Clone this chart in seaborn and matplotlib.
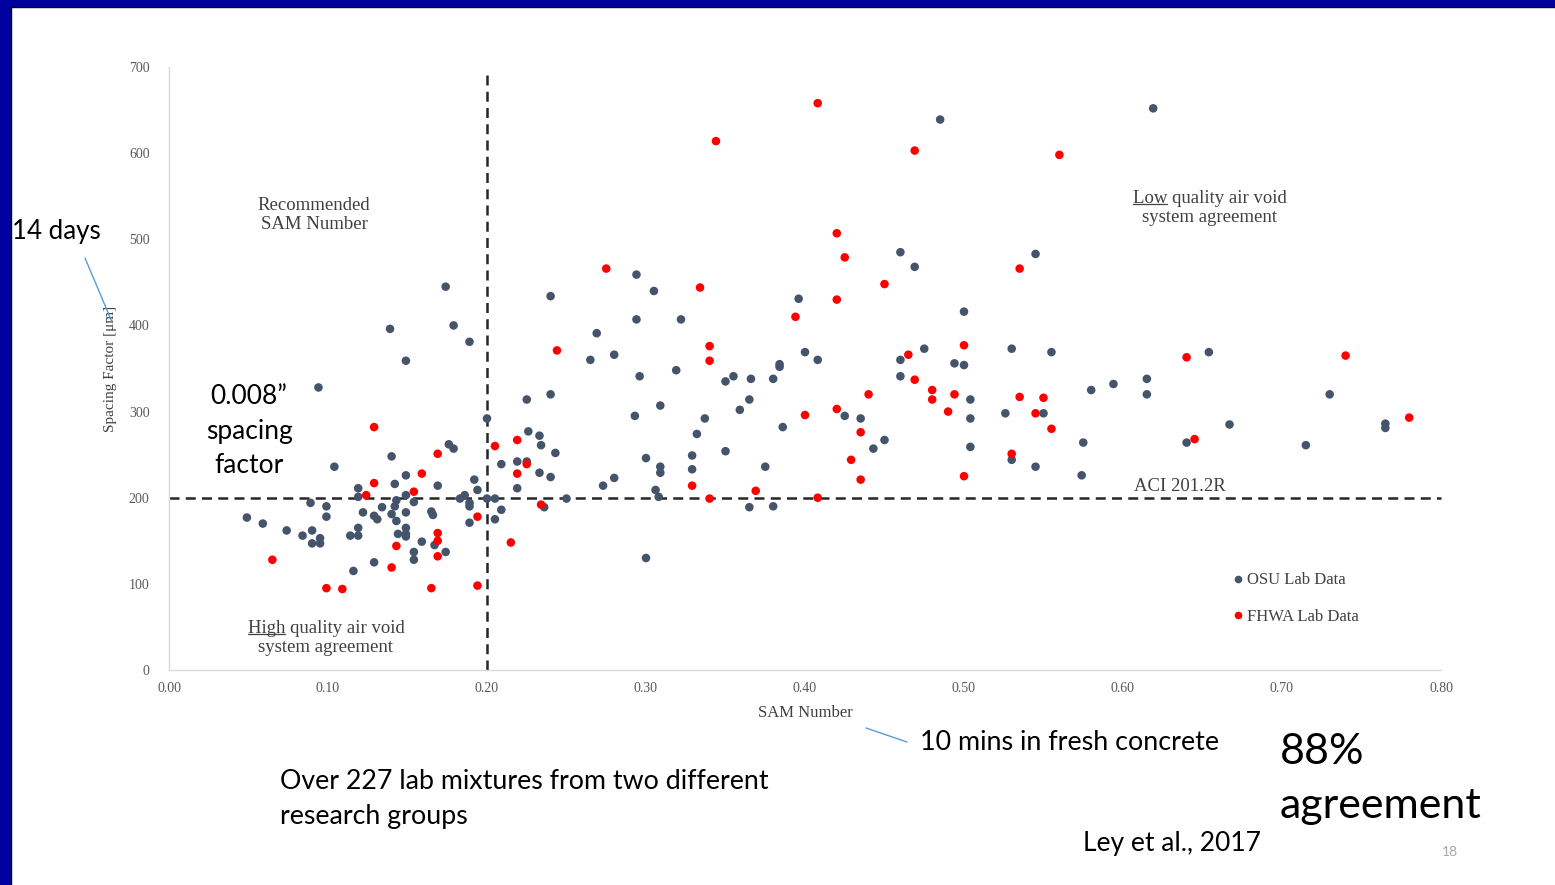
import matplotlib
matplotlib.use("Agg")
import matplotlib.pyplot as plt
import seaborn as sns
import pandas as pd
from matplotlib.lines import Line2D
from matplotlib.patches import Rectangle

# ---------------- data ----------------
osu_sam = [0.049, 0.059, 0.074, 0.084, 0.090, 0.090, 0.095, 0.095, 0.089, 0.099,
           0.099, 0.094, 0.104, 0.114, 0.119, 0.119, 0.119, 0.119, 0.122, 0.129,
           0.131, 0.134, 0.129, 0.116, 0.140, 0.142, 0.143, 0.142, 0.140, 0.143,
           0.144, 0.149, 0.149, 0.149, 0.149, 0.149, 0.154, 0.149, 0.159, 0.167,
           0.174, 0.154, 0.154, 0.165, 0.166, 0.169, 0.183, 0.186, 0.189, 0.189,
           0.192, 0.194, 0.189, 0.200, 0.205, 0.205, 0.209, 0.176, 0.179, 0.149,
           0.139, 0.174, 0.179, 0.189, 0.200, 0.209, 0.219, 0.225, 0.219, 0.233,
           0.240, 0.236, 0.225, 0.240, 0.226, 0.233, 0.234, 0.243,
           0.240, 0.250, 0.265, 0.269, 0.280, 0.273, 0.280, 0.294, 0.305, 0.294,
           0.322, 0.296, 0.309, 0.319, 0.293, 0.300, 0.309, 0.309, 0.306, 0.308,
           0.300, 0.329, 0.329, 0.332, 0.337, 0.350, 0.355, 0.350, 0.359, 0.365,
           0.366, 0.380, 0.384, 0.384, 0.386, 0.375, 0.365, 0.380, 0.396, 0.400,
           0.408, 0.485, 0.460, 0.469, 0.545, 0.500, 0.460, 0.475, 0.460, 0.494,
           0.500, 0.530, 0.555, 0.425, 0.435, 0.443, 0.450, 0.504, 0.504, 0.504,
           0.526, 0.530, 0.545, 0.550, 0.575, 0.574, 0.580, 0.594, 0.619, 0.654,
           0.615, 0.615, 0.667, 0.640, 0.715, 0.730, 0.765, 0.765]
osu_sf = [177, 170, 162, 156, 162, 147, 147, 153, 194, 190,
          178, 328, 236, 156, 156, 165, 211, 201, 183, 179,
          175, 189, 125, 115, 248, 216, 197, 190, 181, 173,
          158, 158, 165, 155, 203, 183, 195, 226, 149, 145,
          137, 137, 128, 184, 180, 214, 199, 203, 194, 190,
          221, 209, 171, 199, 199, 175, 186, 262, 257, 359,
          396, 445, 400, 381, 292, 239, 242, 242, 211, 229,
          224, 189, 314, 320, 277, 272, 261, 252,
          434, 199, 360, 391, 366, 214, 223, 459, 440, 407,
          407, 341, 307, 348, 295, 246, 236, 229, 209, 201,
          130, 249, 233, 274, 292, 335, 341, 254, 302, 314,
          338, 338, 355, 352, 282, 236, 189, 190, 431, 369,
          360, 639, 485, 468, 483, 416, 360, 373, 341, 356,
          354, 373, 369, 295, 292, 257, 267, 314, 292, 259,
          298, 244, 236, 298, 264, 226, 325, 332, 652, 369,
          338, 320, 285, 264, 261, 320, 286, 281]

fhwa_sam = [0.065, 0.099, 0.109, 0.124, 0.129, 0.129, 0.140, 0.143, 0.154, 0.159,
            0.165, 0.169, 0.169, 0.169, 0.169, 0.194, 0.194, 0.205, 0.219, 0.225,
            0.219, 0.215, 0.234, 0.275, 0.244, 0.344, 0.334, 0.340, 0.340, 0.329,
            0.340, 0.369, 0.394, 0.400, 0.408, 0.408, 0.469, 0.560, 0.420, 0.425,
            0.450, 0.420, 0.535, 0.465, 0.500, 0.469, 0.480, 0.480, 0.494, 0.490,
            0.535, 0.550, 0.545, 0.555, 0.440, 0.420, 0.435, 0.429, 0.435, 0.500,
            0.530, 0.640, 0.645, 0.740, 0.780]
fhwa_sf = [128, 95, 94, 203, 217, 282, 119, 144, 207, 228,
           95, 251, 159, 150, 132, 178, 98, 260, 267, 239,
           228, 148, 192, 466, 371, 614, 444, 376, 359, 214,
           199, 208, 410, 296, 200, 658, 603, 598, 507, 479,
           448, 430, 466, 366, 377, 337, 325, 314, 320, 300,
           317, 316, 298, 280, 320, 303, 276, 244, 221, 225,
           251, 363, 268, 365, 293]

series_names = ["OSU Lab Data", "FHWA Lab Data"]
series_colors = ["#44546A", "#FF0000"]
x_ticks = [0.0, 0.1, 0.2, 0.3, 0.4, 0.5, 0.6, 0.7, 0.8]
y_ticks = [0, 100, 200, 300, 400, 500, 600, 700]
sam_limit = 0.20
aci_limit = 200

# ---------------- figure ----------------
sns.set_style("white")
plt.rcParams['font.family'] = ['Liberation Serif', 'DejaVu Sans']
W, H = 1555, 885
fig = plt.figure(figsize=(W / 100, H / 100), dpi=100)
fig.patch.set_facecolor("white")

# slide border
fig.patches.append(Rectangle((0, 0), 10 / W, 1, transform=fig.transFigure,
                             color="#0000A0", zorder=0))
fig.patches.append(Rectangle((0, 1 - 6 / H), 1, 6 / H, transform=fig.transFigure,
                             color="#0000A0", zorder=0))
fig.add_artist(Line2D([10.5 / W, 10.5 / W], [0, 1 - 6 / H], transform=fig.transFigure,
                      color="black", lw=1.0))
fig.add_artist(Line2D([10 / W, 1], [1 - 6.5 / H, 1 - 6.5 / H], transform=fig.transFigure,
                      color="black", lw=1.0))

ax = fig.add_axes([169 / W, (H - 670) / H, 1272 / W, 603 / H])

df = pd.DataFrame({
    "SAM": osu_sam + fhwa_sam,
    "SF": osu_sf + fhwa_sf,
    "Source": [series_names[0]] * len(osu_sam) + [series_names[1]] * len(fhwa_sam),
})
sns.scatterplot(data=df, x="SAM", y="SF", hue="Source",
                palette=dict(zip(series_names, series_colors)),
                s=38, edgecolor="none", linewidth=0, ax=ax, legend=False, zorder=3)

ax.set_xlim(0, 0.8)
ax.set_ylim(0, 700)
ax.set_xticks(x_ticks)
ax.set_xticklabels([f"{v:.2f}" for v in x_ticks])
ax.set_yticks(y_ticks)
ax.set_yticklabels([str(v) for v in y_ticks])
ax.tick_params(axis="both", length=0, labelsize=10, labelcolor="#595959")
ax.tick_params(axis="y", pad=14)
ax.tick_params(axis="x", pad=9)
for s in ["top", "right"]:
    ax.spines[s].set_visible(False)
for s in ["left", "bottom"]:
    ax.spines[s].set_color("#D9D9D9")
    ax.spines[s].set_linewidth(1.0)
ax.grid(False)

ax.set_xlabel("SAM Number", fontsize=12, color="#404040")
ax.set_ylabel("Spacing Factor [μm]", fontsize=11, color="#404040")
ax.xaxis.set_label_coords(0.5, -0.058)
ax.yaxis.set_label_coords(-0.041, 0.5)

# limit lines
ax.plot([sam_limit, sam_limit], [0, 694], color="#262626", lw=1.8,
        dashes=(4, 2.5), zorder=2, clip_on=False)
ax.plot([0, 0.8], [aci_limit, aci_limit], color="#262626", lw=1.8,
        dashes=(4, 2.5), zorder=2, clip_on=False)

# annotations inside the chart
tc = "#404040"
afs = 13.5
ax.text(0.0912, 528, "Recommended\nSAM Number", ha="center", va="center",
        fontsize=afs, color=tc, linespacing=1.12)
ax.text(0.636, 213, "ACI 201.2R", ha="center", va="center", fontsize=afs, color=tc)
t_high = ax.text(0.0987, 37, "High quality air void\nsystem agreement", ha="center",
                 va="center", fontsize=afs, color=tc, linespacing=1.12)
t_low = ax.text(0.6547, 536, "Low quality air void\nsystem agreement", ha="center",
                va="center", fontsize=afs, color=tc, linespacing=1.12)

# legend
handles = [Line2D([], [], marker="o", ls="none", color=c, markersize=5.5,
                  markeredgewidth=0) for c in series_colors]
ax.legend(handles, series_names, loc="center left", bbox_to_anchor=(0.822, 0.118),
          frameon=False, handletextpad=0.05, labelspacing=1.25, fontsize=12,
          handlelength=1.0, labelcolor=tc)

# slide text
sf = ['Lato', 'DejaVu Sans']
fig.text(12 / W, 1 - 232 / H, "14 days", fontsize=18.6, family=sf, va="center", ha="left",
         color="black")
fig.text(249 / W, 1 - 431 / H, "0.008”\nspacing\nfactor", fontsize=19, family=sf,
         va="center", ha="center", linespacing=1.47, color="black")
fig.text(920 / W, 1 - 742 / H, "10 mins in fresh concrete", fontsize=19.4, family=sf,
         va="center", ha="left", color="black")
fig.text(280 / W, 1 - 799 / H, "Over 227 lab mixtures from two different\nresearch groups",
         fontsize=19.3, family=sf, va="center", ha="left", linespacing=1.53, color="black")
fig.text(1280 / W, 1 - 779 / H, "88%\nagreement", fontsize=31, family=sf,
         va="center", ha="left", linespacing=1.52, color="black")
fig.text(1083 / W, 1 - 843 / H, "Ley et al., 2017", fontsize=19, family=sf,
         va="center", ha="left", color="black")
fig.text(1450 / W, 1 - 852 / H, "18", fontsize=10, family=sf, va="center", ha="center",
         color="#A6A6A6")

# callout lines
lc = "#5B9BD5"
fig.add_artist(Line2D([85 / W, 112 / W], [1 - 258 / H, 1 - 322 / H],
                      transform=fig.transFigure, color=lc, lw=1.0))
fig.add_artist(Line2D([866 / W, 907 / W], [1 - 728 / H, 1 - 742 / H],
                      transform=fig.transFigure, color=lc, lw=1.0))

# underline first words
fig.canvas.draw()
renderer = fig.canvas.get_renderer()
for t, word in [(t_high, "High"), (t_low, "Low")]:
    bb = t.get_window_extent(renderer)
    probe = ax.text(0, 0, word, fontsize=afs, transform=None)
    wbb = probe.get_window_extent(renderer)
    probe.remove()
    full = ax.text(0, 0, t.get_text().split("\n")[0], fontsize=afs, transform=None)
    fbb = full.get_window_extent(renderer)
    full.remove()
    x0 = (bb.x0 + bb.x1) / 2 - fbb.width / 2
    ytop_line = bb.y1 - fbb.height
    yl = ytop_line + 3
    fig.add_artist(Line2D([x0 / W, (x0 + wbb.width) / W], [yl / H, yl / H],
                          transform=fig.transFigure, color=tc, lw=0.9))

fig.savefig("out.png", dpi=100)
